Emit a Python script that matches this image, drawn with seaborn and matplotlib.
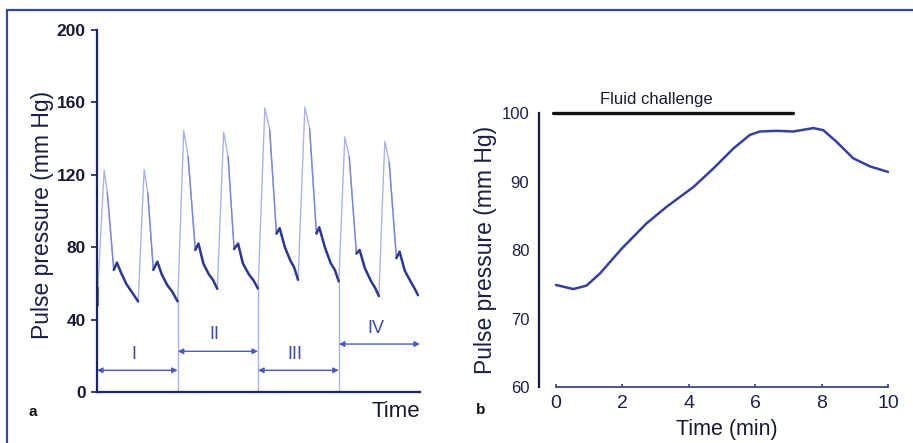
import numpy as np
import pandas as pd
import seaborn as sns
import matplotlib.pyplot as plt
from matplotlib.lines import Line2D

# Panel a: arterial pressure trace, 8 beats (time in beat units)
wave_t = [0.00,
          0.18, 0.26, 0.42, 0.50, 0.60, 0.74, 0.88, 1.03,
          1.18, 1.27, 1.41, 1.51, 1.62, 1.76, 1.88, 2.02,
          2.17, 2.28, 2.46, 2.54, 2.66, 2.80, 2.90, 3.01,
          3.17, 3.28, 3.43, 3.53, 3.65, 3.80, 3.92, 4.03,
          4.20, 4.32, 4.49, 4.57, 4.70, 4.84, 4.93, 5.03,
          5.20, 5.32, 5.49, 5.56, 5.70, 5.85, 5.95, 6.05,
          6.20, 6.31, 6.49, 6.57, 6.70, 6.86, 6.96, 7.05,
          7.20, 7.31, 7.49, 7.57, 7.70, 7.86, 7.95, 8.03]
wave_p = [48,
          122.5, 110, 67.5, 71.5, 66, 59.5, 55, 50,
          123, 110, 67.5, 72, 65, 59, 55.5, 50,
          144.5, 130, 78.5, 82, 71, 65, 62, 57,
          143.5, 130, 79, 82, 71, 65, 61.5, 57,
          157, 145, 87.5, 90.5, 80, 72.5, 69, 62,
          157.5, 145.5, 87.5, 91, 80, 71, 67.5, 61,
          141, 130, 76.5, 78.5, 68.5, 61, 57.5, 53,
          138.5, 127, 74, 77.5, 67, 60.5, 57, 53.5]

# respiratory phases
phase_labels = ['I', 'II', 'III', 'IV']
phase_bounds = [0, 2.02, 4.03, 6.05, 8.08]
arrow_y = [12, 22.5, 12, 26.5]
label_y = [20.5, 31.5, 20.5, 35]

# Panel b: pulse pressure during fluid challenge
time_min = [0.0, 0.52, 0.92, 1.33, 1.98, 2.73, 3.33, 4.14, 4.74, 5.34,
            5.84, 6.14, 6.65, 7.15, 7.75, 8.05, 8.45, 8.95, 9.46, 10.0]
pp_mmhg = [74.9, 74.3, 74.8, 76.6, 80.2, 83.9, 86.3, 89.2, 91.9, 94.8,
           96.8, 97.3, 97.4, 97.3, 97.8, 97.5, 95.8, 93.4, 92.2, 91.4]
fluid_start, fluid_end = -0.1, 7.15

sns.set_theme(style='white')
plt.rcParams['font.family'] = ['Liberation Sans', 'DejaVu Sans']

navy = '#1c2466'
light = '#aab3ec'
mid = '#7c87d4'
dark = '#2b3a8e'
txt = '#171a33'

fig = plt.figure(figsize=(9.13, 4.43), dpi=100)

# outer blue frame
fig.add_artist(Line2D([0.0077, 1.0], [0.9774, 0.9774], color='#3347a6', lw=1.6))
fig.add_artist(Line2D([0.0077, 0.0077], [0.0, 0.9774], color='#3347a6', lw=1.6))

# ---------------- panel a ----------------
ax1 = fig.add_axes([0.1062, 0.1151, 0.3538, 0.8172])
dfa = pd.DataFrame({'t': wave_t, 'p': wave_p})
sns.lineplot(data=dfa, x='t', y='p', ax=ax1, color=light, lw=1.0,
             estimator=None, sort=False)
for k in range(8):
    i = 1 + 8 * k
    ax1.plot(wave_t[i + 1:i + 3], wave_p[i + 1:i + 3], color=mid, lw=1.0)
    ax1.plot(wave_t[i + 2:i + 8], wave_p[i + 2:i + 8], color=dark, lw=1.8,
             solid_capstyle='round')
ax1.plot(wave_t[:1] * 2, [wave_p[0], wave_p[0] + 10], color=dark, lw=1.8)

# separators between phases
for b in phase_bounds[1:-1]:
    j = int(np.argmin(np.abs(np.array(wave_t) - b)))
    ax1.plot([b, b], [0, wave_p[j]], color=light, lw=1.0)

for lab, x0, x1, ya, yl in zip(phase_labels, phase_bounds[:-1], phase_bounds[1:],
                               arrow_y, label_y):
    ax1.annotate('', xy=(x1, ya), xytext=(x0, ya),
                 arrowprops=dict(arrowstyle='<|-|>', color='#4a5cc4', lw=1.0,
                                 mutation_scale=8, shrinkA=0, shrinkB=0))
    ax1.text((x0 + x1) / 2 - 0.08, yl, lab, ha='center', va='center',
             fontsize=13, color='#3a4aa8')

ax1.set_xlim(0, 8.08)
ax1.set_ylim(0, 200)
ax1.set_yticks(range(0, 201, 40))
ax1.set_xticks([])
sns.despine(ax=ax1)
for s in ['left', 'bottom']:
    ax1.spines[s].set_color(navy)
    ax1.spines[s].set_linewidth(1.6)
ax1.tick_params(axis='y', left=True, direction='out', length=4, width=1.2,
                color=navy, pad=4, labelsize=12.5, labelcolor=txt)
for lbl in ax1.get_yticklabels():
    lbl.set_fontweight('bold')
ax1.set_ylabel('Pulse pressure (mm Hg)', fontsize=16.5, color='#1a1f45', va='center')
ax1.yaxis.set_label_coords(-0.17, 0.49)
ax1.set_xlabel('Time', fontsize=16, color=txt, ha='right', va='center')
ax1.xaxis.set_label_coords(1.0, -0.055)
fig.text(33 / 913, 1 - 412 / 443, 'a', fontsize=11, fontweight='bold',
         ha='center', va='center', color='#111111')

# ---------------- panel b ----------------
ax2 = fig.add_axes([0.5904, 0.1264, 0.3822, 0.6185])
dfb = pd.DataFrame({'Time (min)': time_min, 'Pulse pressure (mm Hg)': pp_mmhg})
sns.lineplot(data=dfb, x='Time (min)', y='Pulse pressure (mm Hg)', ax=ax2,
             color='#3441a0', lw=1.8, estimator=None)
for ln in ax2.lines:
    ln.set_clip_on(False)
ax2.plot([fluid_start, fluid_end], [100, 100], color='#111111', lw=2.4,
         clip_on=False)
ax2.text((fluid_start + fluid_end) / 2 - 0.5, 101.9, 'Fluid challenge',
         ha='center', va='center', fontsize=12, color=txt)

ax2.set_xlim(-0.51, 10.0)
ax2.set_ylim(60, 100)
ax2.set_xticks(range(0, 11, 2))
ax2.set_yticks(range(60, 101, 10))
sns.despine(ax=ax2)
ax2.spines['left'].set_bounds(60, 100)
ax2.spines['left'].set_color('#15193a')
ax2.spines['left'].set_linewidth(1.6)
ax2.spines['bottom'].set_bounds(0, 10)
ax2.spines['bottom'].set_color('#3a4590')
ax2.spines['bottom'].set_linewidth(1.3)
ax2.tick_params(axis='y', length=0, pad=7, labelsize=12, labelcolor='#1a2050')
ax2.tick_params(axis='x', bottom=True, direction='in', length=2.5, color='#3a4590',
                pad=6, labelsize=14, labelcolor='#1a2050')
ax2.set_ylabel('Pulse pressure (mm Hg)', fontsize=16.5, color='#1a1f45', va='center')
ax2.yaxis.set_label_coords((485 - 539) / (0.3822 * 913), 0.5)
ax2.set_xlabel('Time (min)', fontsize=15.5, color=txt, va='center')
ax2.xaxis.set_label_coords((727 - 539) / (0.3822 * 913), (387 - 429) / (0.6185 * 443))
fig.text(481 / 913, 1 - 410 / 443, 'b', fontsize=11, fontweight='bold',
         ha='center', va='center', color='#111111')

fig.savefig('out.png', dpi=100)
